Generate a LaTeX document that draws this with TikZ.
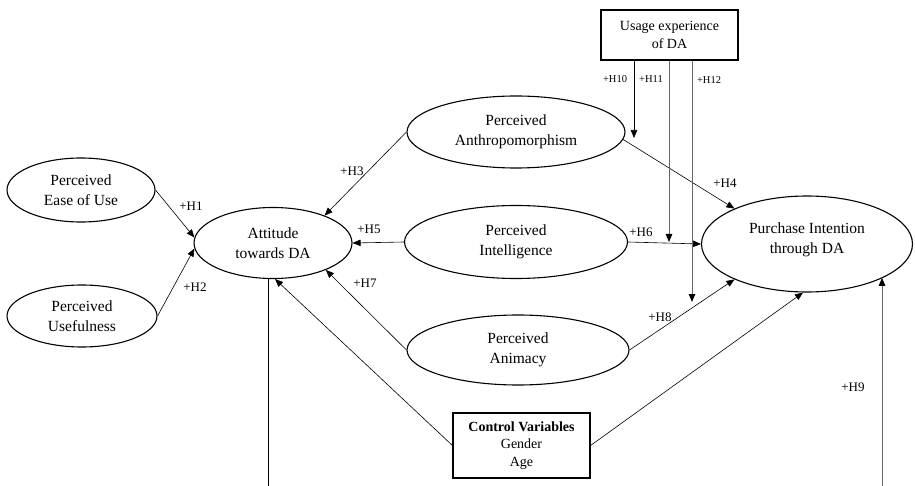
\documentclass[tikz,border=0pt]{standalone}
\usepackage{fontspec}
\setmainfont{Liberation Serif}
\usetikzlibrary{shapes.geometric,arrows.meta}
\begin{document}
\begin{tikzpicture}[x=1pt,y=-1pt,
    construct/.style={draw,ellipse,line width=1.1pt,inner sep=0pt,align=center,font=\fontsize{15.5}{19.5}\selectfont},
    infobox/.style={draw,rectangle,line width=1.1pt,inner sep=0pt,align=center,font=\fontsize{14}{17.5}\selectfont},
    link/.style={line width=0.6pt,-{Triangle[length=8pt,width=6.5pt]}},
    modlink/.style={line width=1pt,draw=black!60,-{Triangle[length=8pt,width=6.5pt,color=black]}},
    hyp/.style={font=\fontsize{13}{15}\selectfont,inner sep=0pt},
    hypsmall/.style={font=\fontsize{10.5}{12}\selectfont,inner sep=0pt}]
  \useasboundingbox (0,0) rectangle (915,486);
  % constructs
  \node[construct,minimum width=148pt,minimum height=64pt] (peou) at (81,190) {Perceived\\Ease of Use};
  \node[construct,minimum width=150pt,minimum height=62pt] (pu) at (82,316) {Perceived\\Usefulness};
  \node[construct,minimum width=158pt,minimum height=71pt] (att) at (273,243) {Attitude\\towards DA};
  \node[construct,minimum width=218pt,minimum height=72pt] (anthro) at (516,132) {Perceived\\Anthropomorphism};
  \node[construct,minimum width=223pt,minimum height=73pt] (intel) at (516,242) {Perceived\\Intelligence};
  \node[construct,minimum width=222pt,minimum height=70pt] (anim) at (518,350) {Perceived\\Animacy};
  \node[construct,minimum width=211pt,minimum height=96pt] (pi) at (807,244) {Purchase Intention\\through DA\\[-7.5pt]};
  \node[infobox,minimum width=137pt,minimum height=65pt] (ctrl) at (521.5,445.5) {\textbf{Control Variables}\\Gender\\Age};
  \node[infobox,minimum width=137pt,minimum height=50pt] (usage) at (669.5,35) {Usage experience\\of DA};
  % free ends
  \coordinate (m10) at (634,138);
  \coordinate (m11) at (669,242);
  \coordinate (m12) at (692,302);
  \coordinate (attout) at (268,486);
  \coordinate (piin) at (882,486);
  % paths
  \draw[link] (peou.east) -- (att.176);
  \draw[link] (pu.east) -- (att.184);
  \draw[link] (anthro.west) -- (att.28);
  \draw[link] (intel.west) -- (att.east);
  \draw[link] (anim.west) -- (att.-27);
  \draw[link] (ctrl.west) -- ([xshift=2pt]att.south);
  \draw[link] (anthro.-4) -- (pi.154);
  \draw[link] (intel.east) -- (pi.west);
  \draw[link] (anim.east) -- (pi.206);
  \draw[link] (ctrl.east) -- ([xshift=-4pt]pi.south);
  \draw[line width=1pt] (att.south -| attout) -- (attout);
  \draw[modlink] (piin) -- (piin |- pi.-24);
  \draw[link] (usage.south -| m10) -- (m10);
  \draw[modlink] (usage.south -| m11) -- (m11);
  \draw[modlink] (usage.south -| m12) -- (m12);
  % labels
  \node[hyp] (h1) at (191,206) {+H1};
  \node[hyp] (h2) at (195,287) {+H2};
  \node[hyp] (h3) at (352,171) {+H3};
  \node[hyp] (h4) at (725,183) {+H4};
  \node[hyp] (h5) at (369,229) {+H5};
  \node[hyp] (h6) at (641,232) {+H6};
  \node[hyp] (h7) at (365,283) {+H7};
  \node[hyp] (h8) at (660,317) {+H8};
  \node[hyp] (h9) at (853,387) {+H9};
  \node[hypsmall] (h10) at (615,79) {+H10};
  \node[hypsmall] (h11) at (651,79) {+H11};
  \node[hypsmall] (h12) at (709,80) {+H12};
\end{tikzpicture}
\end{document}
